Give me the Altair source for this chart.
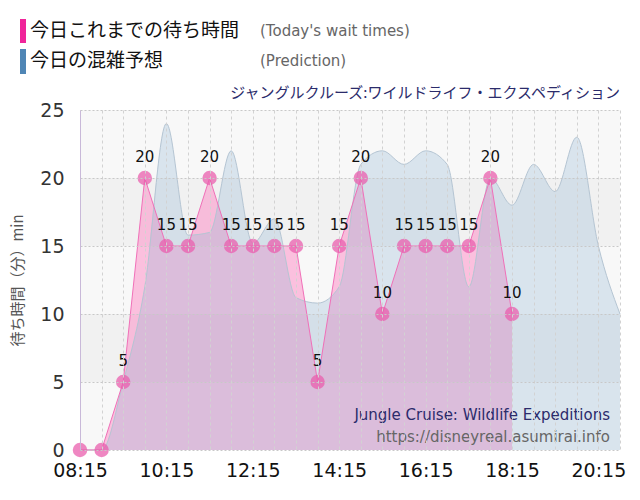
import altair as alt
import pandas as pd

# ---- data ----
times = ["08:15", "08:45", "09:15", "09:45", "10:15", "10:45", "11:15", "11:45",
         "12:15", "12:45", "13:15", "13:45", "14:15", "14:45", "15:15", "15:45",
         "16:15", "16:45", "17:15", "17:45", "18:15", "18:45", "19:15", "19:45",
         "20:15", "20:45"]
actual_values = [0, 0, 5, 20, 15, 15, 20, 15, 15, 15, 15, 5, 15, 20, 10,
                 15, 15, 15, 15, 20, 10]
pred_values = [0, 0, 5, 12, 24, 15.8, 16, 22, 15.2, 17, 11.2, 10.8, 12, 21,
               22, 21, 22, 21, 12, 20, 18, 21, 19, 23, 15, 10]
tick_labels = ["08:15", "10:15", "12:15", "14:15", "16:15", "18:15", "20:15"]
y_ticks = [0, 5, 10, 15, 20, 25]

legend_jp = ["今日これまでの待ち時間", "今日の混雑予想"]
legend_en = ["(Today's wait times)", "(Prediction)"]
title_jp = "ジャングルクルーズ:ワイルドライフ・エクスペディション"
watermark = ["Jungle Cruise: Wildlife Expeditions", "https://disneyreal.asumirai.info"]
y_title = "待ち時間（分）min"


def to_min(s):
    h, m = s.split(":")
    return int(h) * 60 + int(m)


grid_vals = [to_min(t) for t in times]
x_min, x_max = grid_vals[0], grid_vals[-1]

actual = pd.DataFrame({"t": grid_vals[:len(actual_values)], "v": actual_values})
actual["lbl"] = actual["v"].astype(int).astype(str)
pred = pd.DataFrame({"t": grid_vals, "v": pred_values})
bands = pd.DataFrame({"y0": y_ticks[:-1], "y1": y_ticks[1:],
                      "c": ["a", "b", "a", "b", "a"]})

label_arr = "[" + ",".join("'" + (t if t in tick_labels else "") + "'" for t in times) + "]"
label_expr = label_arr + "[round((datum.value-%d)/30)]" % x_min

LATIN = "DejaVu Sans"
JP = "Noto Sans CJK JP"

x_scale = alt.Scale(domain=[x_min, x_max], nice=False, zero=False)
y_scale = alt.Scale(domain=[0, 25], nice=False)

x_axis = alt.Axis(values=grid_vals, labelExpr=label_expr, title=None,
                  grid=True, gridDash=[3, 3], gridColor="#d2d2d2", gridWidth=1,
                  ticks=False, domain=False, labelFont=LATIN, labelFontSize=19,
                  labelColor="#111", labelPadding=11, labelFlush=False,
                  labelOverlap=False, zindex=1)
y_axis = alt.Axis(values=y_ticks, title=y_title, titleFont=JP, titleFontSize=15,
                  titleFontWeight="normal", titleColor="#555", titlePadding=14,
                  grid=True, gridDash=[2, 2], gridColor="#c8c8c8",
                  ticks=False, domain=True, domainColor="#c9b9d9",
                  labelFont=LATIN, labelFontSize=19, labelColor="#333",
                  labelPadding=16, zindex=1)

X = alt.X("t:Q", scale=x_scale, axis=x_axis)
Y = alt.Y("v:Q", scale=y_scale, axis=y_axis)

band_layer = alt.Chart(bands).mark_rect().encode(
    y=alt.Y("y0:Q", scale=y_scale, axis=y_axis), y2="y1:Q",
    x=alt.value(0), x2=alt.value(540),
    color=alt.Color("c:N", scale=alt.Scale(domain=["a", "b"], range=["#f8f8f8", "#f1f1f1"]),
                    legend=None),
)

pink_area = alt.Chart(actual).mark_area(color="#ff73b9", opacity=0.42,
                                        interpolate="linear").encode(x=X, y=Y)
blue_area = alt.Chart(pred).mark_area(color="#92b6d3", opacity=0.3,
                                      interpolate="monotone").encode(x=X, y=Y)
blue_line = alt.Chart(pred).mark_line(color="#b5c5d3", strokeWidth=1,
                                      interpolate="monotone").encode(x=X, y=Y)
pink_line = alt.Chart(actual).mark_line(color="#f070b8", strokeWidth=1,
                                        interpolate="linear").encode(x=X, y=Y)
points = alt.Chart(actual).mark_circle(size=210, color="#ea5fae", opacity=0.75).encode(x=X, y=Y)
labels = alt.Chart(actual).transform_filter("datum.v > 0").mark_text(
    font=LATIN, fontSize=15, color="#111", dy=-21).encode(x=X, y=Y, text="lbl:N")

# legend
leg_bar_pink = alt.Chart(pd.DataFrame({"a": [0]})).mark_rect(color="#f0259a").encode(
    x=alt.value(-60), x2=alt.value(-54), y=alt.value(-91), y2=alt.value(-67))
leg_bar_blue = alt.Chart(pd.DataFrame({"a": [0]})).mark_rect(color="#4f86b5").encode(
    x=alt.value(-60), x2=alt.value(-54), y=alt.value(-61), y2=alt.value(-36))

leg_jp0 = alt.Chart(pd.DataFrame({"s": [legend_jp[0]]})).mark_text(
    font=JP, fontSize=19, color="#111", align="left", baseline="middle").encode(
    x=alt.value(-50), y=alt.value(-79), text="s:N")
leg_jp1 = alt.Chart(pd.DataFrame({"s": [legend_jp[1]]})).mark_text(
    font=JP, fontSize=19, color="#111", align="left", baseline="middle").encode(
    x=alt.value(-50), y=alt.value(-49), text="s:N")
leg_en0 = alt.Chart(pd.DataFrame({"s": [legend_en[0]]})).mark_text(
    font=LATIN, fontSize=15, color="#666", align="left", baseline="middle").encode(
    x=alt.value(180), y=alt.value(-79), text="s:N")
leg_en1 = alt.Chart(pd.DataFrame({"s": [legend_en[1]]})).mark_text(
    font=LATIN, fontSize=15, color="#666", align="left", baseline="middle").encode(
    x=alt.value(180), y=alt.value(-49), text="s:N")

title_layer = alt.Chart(pd.DataFrame({"s": [title_jp]})).mark_text(
    font=JP, fontSize=15, color="#2b2b6b", align="right", baseline="middle").encode(
    x=alt.value(540), y=alt.value(-17), text="s:N")

wm0 = alt.Chart(pd.DataFrame({"s": [watermark[0]]})).mark_text(
    font=LATIN, fontSize=15, color="#2b2b6b", align="right", baseline="middle").encode(
    x=alt.value(530), y=alt.value(305), text="s:N")
wm1 = alt.Chart(pd.DataFrame({"s": [watermark[1]]})).mark_text(
    font=LATIN, fontSize=15, color="#666", align="right", baseline="middle").encode(
    x=alt.value(530), y=alt.value(327), text="s:N")

chart = alt.layer(
    band_layer, pink_area, blue_area, blue_line, pink_line, points, labels,
    wm0, wm1, leg_bar_pink, leg_bar_blue, leg_jp0, leg_jp1, leg_en0, leg_en1,
    title_layer,
).properties(
    width=540, height=340,
    autosize=alt.AutoSizeParams(type="none"),
    padding={"left": 80, "top": 110, "right": 20, "bottom": 50},
    background="white",
).configure_view(stroke=None)

chart.save("out.html", embed_options={"renderer": "svg", "actions": False})
